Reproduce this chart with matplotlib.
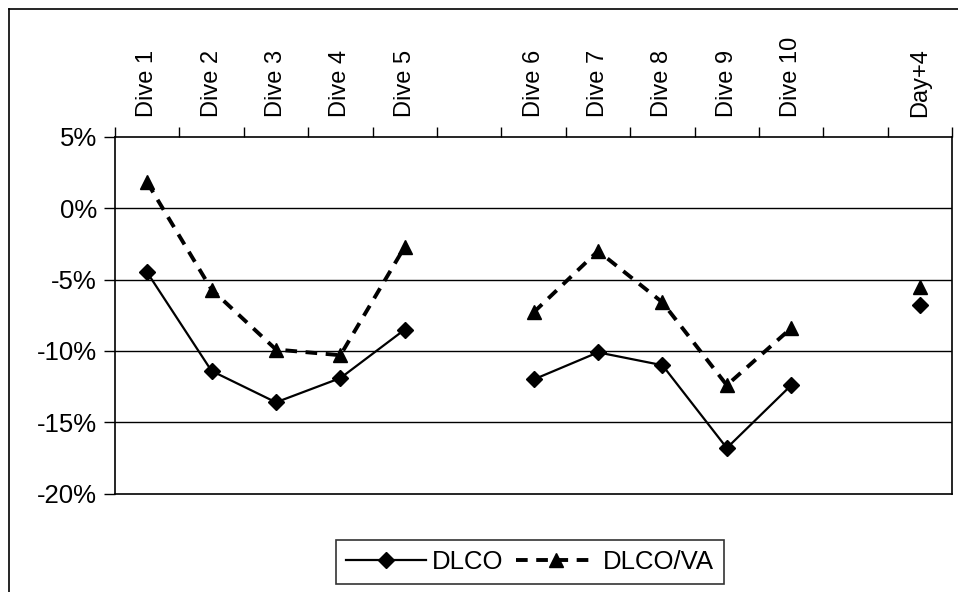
import matplotlib.pyplot as plt
from matplotlib.lines import Line2D
import numpy as np

plt.rcParams['font.family'] = ['Liberation Sans', 'DejaVu Sans']

# categories (blank slots are the gaps in the original chart)
categories = ['Dive 1', 'Dive 2', 'Dive 3', 'Dive 4', 'Dive 5', '',
              'Dive 6', 'Dive 7', 'Dive 8', 'Dive 9', 'Dive 10', '', 'Day+4']

# percent change
dlco = [-4.5, -11.4, -13.6, -11.9, -8.5, np.nan,
        -12.0, -10.1, -11.0, -16.8, -12.4, np.nan, -6.8]
dlco_va = [1.8, -5.7, -9.9, -10.3, -2.7, np.nan,
           -7.3, -3.0, -6.6, -12.4, -8.4, np.nan, -5.5]

y_ticks = [5, 0, -5, -10, -15, -20]

fig = plt.figure(figsize=(9.58, 5.92), dpi=100)
ax = fig.add_axes([0.120, 0.166, 0.874, 0.603])

x = np.arange(len(categories))
ax.plot(x, dlco, color='black', lw=1.6, marker='D', ms=8.5, label='DLCO')
ax.plot(x, dlco_va, color='black', lw=2.8, ls=(0, (3, 2.2)), marker='^', ms=10.5,
        label='DLCO/VA')

ax.set_xlim(-0.5, len(categories) - 0.5)
ax.set_ylim(-20, 5)

# category labels on top, tick marks on category boundaries
ax.xaxis.tick_top()
ax.set_xticks(np.arange(-0.5, len(categories)), minor=False)
ax.set_xticklabels([])
ax.set_xticks(x, minor=True)
ax.set_xticklabels(categories, minor=True, rotation=90, fontsize=17)
ax.tick_params(axis='x', which='major', direction='out', length=7, width=1, top=True)
ax.tick_params(axis='x', which='minor', length=0, pad=14)

ax.set_yticks(y_ticks)
ax.set_yticklabels([f'{v}%' for v in y_ticks], fontsize=18.5)
ax.tick_params(axis='y', direction='out', length=8, width=1, pad=5)

for v in y_ticks[1:-1]:
    ax.axhline(v, color='black', lw=1)

for s in ax.spines.values():
    s.set_color('black')
    s.set_linewidth(1.2)

# outer chart border
fig.add_artist(Line2D([0.009, 0.009], [0.0, 0.985], color='black', lw=1.2,
                      transform=fig.transFigure))
fig.add_artist(Line2D([0.009, 1.0], [0.985, 0.985], color='black', lw=1.2,
                      transform=fig.transFigure))

leg = fig.legend(loc='center', bbox_to_anchor=(0.553, 0.051), ncol=2,
                 fontsize=18.5, frameon=True, fancybox=False, edgecolor='black',
                 handlelength=3.1, columnspacing=0.5, handletextpad=0.25,
                 borderpad=0.4)
leg.get_frame().set_linewidth(1.2)

fig.savefig('out.png', dpi=100)
